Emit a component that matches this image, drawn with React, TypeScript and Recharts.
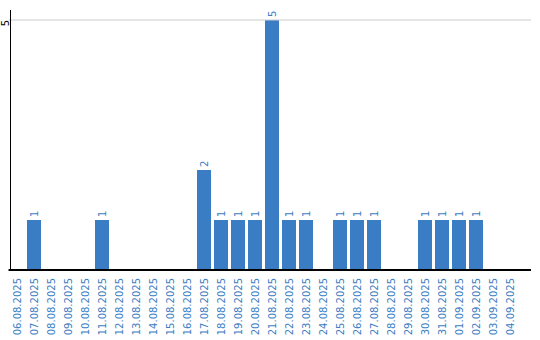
import { BarChart, Bar, XAxis, YAxis, ReferenceLine, LabelList } from "recharts";

const dates = [
  "06.08.2025", "07.08.2025", "08.08.2025", "09.08.2025", "10.08.2025",
  "11.08.2025", "12.08.2025", "13.08.2025", "14.08.2025", "15.08.2025",
  "16.08.2025", "17.08.2025", "18.08.2025", "19.08.2025", "20.08.2025",
  "21.08.2025", "22.08.2025", "23.08.2025", "24.08.2025", "25.08.2025",
  "26.08.2025", "27.08.2025", "28.08.2025", "29.08.2025", "30.08.2025",
  "31.08.2025", "01.09.2025", "02.09.2025", "03.09.2025", "04.09.2025",
];

const counts = [
  0, 1, 0, 0, 0, 1, 0, 0, 0, 0,
  0, 2, 1, 1, 1, 5, 1, 1, 0, 1,
  1, 1, 0, 0, 1, 1, 1, 1, 0, 0,
];

const yTicks = [5];

const data = dates.map((d, i) => ({ date: d, count: counts[i] }));

const BLUE = "#3b7dc4";
const FONT = "'DejaVu Sans', Verdana, sans-serif";

const XTick = (props: any) => {
  const { x, y, payload } = props;
  return (
    <text
      x={x}
      y={y}
      transform={`rotate(-90, ${x}, ${y})`}
      textAnchor="end"
      dy="0.35em"
      fill={BLUE}
      fontSize={10}
      fontFamily={FONT}
    >
      {payload.value}
    </text>
  );
};

const YTick = (props: any) => {
  const { y, payload } = props;
  const x = 5;
  return (
    <text
      x={x}
      y={y + 3}
      transform={`rotate(-90, ${x}, ${y + 3})`}
      textAnchor="middle"
      dy="0.35em"
      fill="#000"
      fontSize={10}
      fontFamily={FONT}
    >
      {payload.value}
    </text>
  );
};

const ValueLabel = (props: any) => {
  const { x, y, width, value } = props;
  if (!value) return null;
  const cx = x + width / 2;
  const ty = y - 3;
  return (
    <text
      x={cx}
      y={ty}
      transform={`rotate(-90, ${cx}, ${ty})`}
      textAnchor="start"
      dy="0.35em"
      fill={BLUE}
      fontSize={10}
      fontFamily={FONT}
    >
      {value}
    </text>
  );
};

export default function App() {
  return (
    <div style={{ position: "absolute", left: 0, top: 0, width: 540, height: 340, background: "#fff" }}>
      <BarChart
        width={540}
        height={340}
        data={data}
        margin={{ top: 10, right: 9, left: 0, bottom: 0 }}
        barCategoryGap={1.5}
      >
        <XAxis
          dataKey="date"
          interval={0}
          height={70}
          padding={{ left: 0, right: 12.5 }}
          axisLine={{ stroke: "#000", strokeWidth: 2 }}
          tickLine={false}
          tick={<XTick />}
          tickMargin={2}
        />
        <YAxis
          width={8.5}
          domain={[0, 5.2]}
          ticks={yTicks}
          axisLine={false}
          tickLine={false}
          tick={<YTick />}
        />
        <ReferenceLine y={5} stroke="#cccccc" />
        <Bar dataKey="count" fill={BLUE} isAnimationActive={false}>
          <LabelList dataKey="count" content={<ValueLabel />} />
        </Bar>
      </BarChart>
      <div style={{ position: "absolute", left: 10, top: 10, width: 1, height: 260, background: "#000" }} />
    </div>
  );
}
